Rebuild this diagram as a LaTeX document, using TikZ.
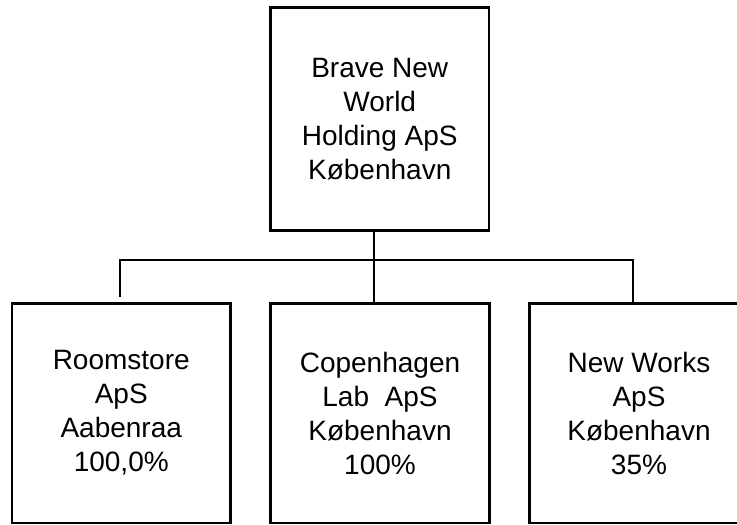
\documentclass[tikz,border=0pt]{standalone}
\usepackage{fontspec}
\setmainfont{Liberation Sans}
\begin{document}
\begin{tikzpicture}[x=1pt,y=-1pt,
  orgbox/.style={draw=black,line width=2.5pt,rectangle,inner sep=0pt,align=center,
    font=\fontsize{28}{34}\selectfont},
  link/.style={draw=black,line width=2pt}]
\useasboundingbox (0,0) rectangle (737,525);
\node[orgbox,minimum width=218.5pt,minimum height=223pt] (top) at (379.75,119)
  {Brave New\\World\\Holding ApS\\København};
\node[orgbox,minimum width=218.5pt,minimum height=219.3pt] (left) at (121.25,413.15)
  {Roomstore\\ApS\\Aabenraa\\100,0\%};
\node[orgbox,minimum width=219pt,minimum height=219.3pt] (mid) at (380,413.15)
  {Copenhagen\\Lab\ \ ApS\\København\\100\%};
\node[orgbox,minimum width=219pt,minimum height=219.3pt] (right) at (639,413.15)
  {New Works\\ApS\\København\\35\%};
\coordinate (jn) at (374,260);
\coordinate (lend) at (120,296.7);
\coordinate (rj) at (633,260);
\draw[link] (top.south -| jn) -- (mid.north -| jn);
\draw[link] (lend) |- (rj) -- (right.north -| rj);
\end{tikzpicture}
\end{document}
